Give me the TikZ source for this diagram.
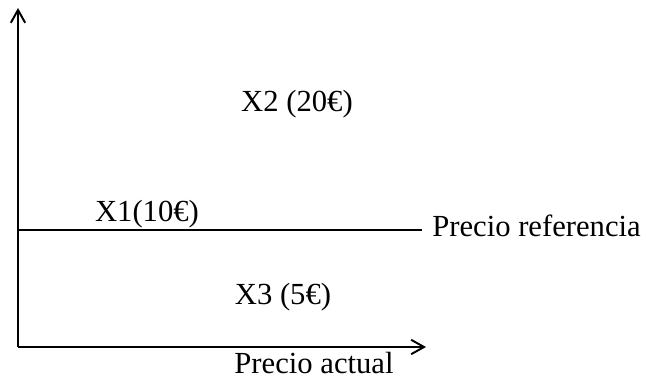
\documentclass[tikz,border=0pt]{standalone}
\usepackage{fontspec}
\setmainfont{Liberation Serif}
\usetikzlibrary{arrows.meta,positioning}
\tikzset{
  axisline/.style={-{Straight Barb[length=3.2mm,width=3.6mm,line width=1.4pt]},
    line width=1.4pt,draw=black},
  refline/.style={line width=1.4pt,draw=black},
  lbl/.style={inner sep=0pt,font=\fontsize{21.8}{26}\selectfont},
}
\begin{document}
\begin{tikzpicture}[x=0.025cm,y=-0.025cm]
  \useasboundingbox (0,0) rectangle (646,385);
  \coordinate (orig) at (18,347);
  \coordinate (ytop) at (18,8);
  \coordinate (xend) at (426,347);
  \coordinate (refa) at (18,230);
  \coordinate (refb) at (422,230);
  \draw[axisline] (orig) -- (ytop);
  \draw[axisline] (orig) -- (xend);
  \draw[refline] (refa) -- (refb);
  \node[lbl,anchor=base west] (pref) at (432,237) {Precio referencia};
  \node[lbl,anchor=base] (pact) at (314,374) {Precio actual};
  \node[lbl,anchor=base] (x2) at (297,112) {X2 (20€)};
  \node[lbl,anchor=base] (x1) at (147,222) {X1(10€)};
  \node[lbl,anchor=base] (x3) at (283,305) {X3 (5€)};
\end{tikzpicture}
\end{document}
